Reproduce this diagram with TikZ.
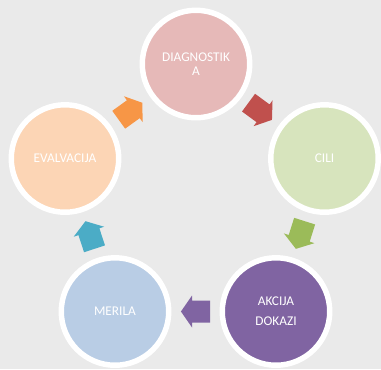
\documentclass[tikz,border=0pt]{standalone}
\usepackage{fontspec}
\setmainfont{Carlito}
\usetikzlibrary{calc}
\definecolor{bgc}{HTML}{EAEAEA}
\definecolor{pinkc}{HTML}{E6B9B8}
\definecolor{greenc}{HTML}{D7E4BD}
\definecolor{purplec}{HTML}{8064A2}
\definecolor{bluec}{HTML}{B9CDE5}
\definecolor{orangec}{HTML}{FCD5B5}
\definecolor{redA}{HTML}{C0504D}
\definecolor{greenA}{HTML}{9BBB59}
\definecolor{purpleA}{HTML}{8064A2}
\definecolor{blueA}{HTML}{4BACC6}
\definecolor{orangeA}{HTML}{F79646}
\newcommand\cyclearrow[3]{%
  \fill[#3] let \p1=($(#2)-(#1)$), \n1={atan2(\y1,\x1)}, \p2=($(#1)!0.5!(#2)$) in
   ($(\p2)+(\n1:10.9pt)$)
   -- ($(\p2)+(\n1:2.6pt)+({\n1+90}:12pt)$)
   -- ($(\p2)+(\n1:2.6pt)+({\n1+90}:8.25pt)$)
   -- ($(\p2)+(\n1:-10.9pt)+({\n1+90}:8.25pt)$)
   -- ($(\p2)+(\n1:-10.9pt)+({\n1-90}:8.25pt)$)
   -- ($(\p2)+(\n1:2.6pt)+({\n1-90}:8.25pt)$)
   -- ($(\p2)+(\n1:2.6pt)+({\n1-90}:12pt)$) -- cycle;}
\begin{document}
\begin{tikzpicture}[x=0.75pt,y=-0.75pt,
  stage/.style={circle, draw=white, line width=4.1pt, minimum size=80.6pt,
    inner sep=0pt, text=white, align=center,
    font=\fontsize{10}{10.5}\selectfont}]
\fill[bgc] (0,0) rectangle (381,369);
\useasboundingbox (0,0) rectangle (381,369);
\node[stage, fill=pinkc] (T) at (196,64) {DIAGNOSTIK\\A};
\node[stage, fill=greenc] (R) at (324.5,158.5) {CILI};
\node[stage, fill=purplec] (BR) at (276,311.5) {AKCIJA\\[4.5pt]DOKAZI};
\node[stage, fill=bluec] (BL) at (115,311.5) {MERILA};
\node[stage, fill=orangec] (L) at (65,158.5) {EVALVACIJA};
\cyclearrow{T}{R}{redA}
\cyclearrow{R}{BR}{greenA}
\cyclearrow{BR}{BL}{purpleA}
\cyclearrow{BL}{L}{blueA}
\cyclearrow{L}{T}{orangeA}
\end{tikzpicture}
\end{document}
